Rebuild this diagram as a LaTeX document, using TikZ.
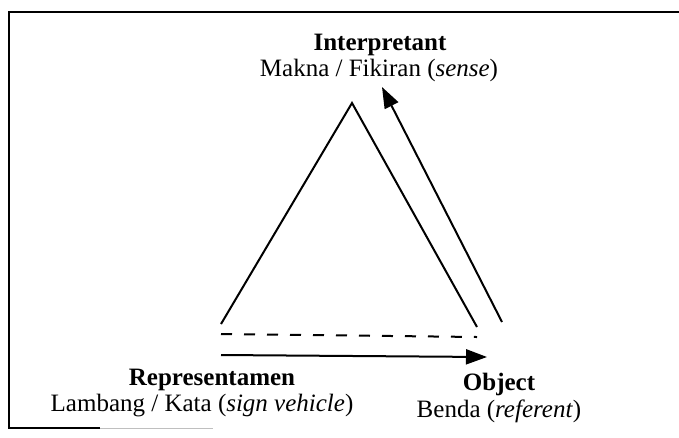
\documentclass[tikz,border=0pt]{standalone}
\usepackage{fontspec}
\setmainfont{Liberation Serif}
\usetikzlibrary{arrows.meta}
\begin{document}
\begin{tikzpicture}[x=1pt,y=-1pt,
  line/.style={line width=2pt},
  frame/.style={line width=2pt},
  lbl/.style={inner sep=0pt,anchor=base,font=\fontsize{25}{29}\selectfont},
  head/.style={lbl,font=\fontsize{25}{29}\selectfont\bfseries},
  tip/.style={-{Triangle[length=21pt,width=15pt]}}]
\useasboundingbox (0,0) rectangle (679,437);
% frame (open on the right)
\coordinate (ftr) at (679,12);
\coordinate (ftl) at (9,12);
\coordinate (fbl) at (9,428);
\coordinate (fbm) at (100,428);
\coordinate (fbe) at (213,428);
\draw[frame] (ftr) -- (ftl) -- (fbl) -- (fbm);
\draw[line width=1pt,black!25] (fbm) -- (fbe);
% triangle
\coordinate (L) at (221,324);
\coordinate (A) at (352,103);
\coordinate (R) at (477,327);
\draw[line] (L) -- (A) -- (R);
% dashed base
\coordinate (dL) at (221,334);
\coordinate (dR) at (477,337);
\draw[line,dash pattern=on 11pt off 12pt] (dL) -- (dR);
% arrow to object
\coordinate (aL) at (221,355);
\coordinate (aR) at (487,357);
\draw[line,tip] (aL) -- (aR);
% arrow to interpretant
\coordinate (bS) at (502,322);
\coordinate (bE) at (382,87);
\draw[line,tip] (bS) -- (bE);
% labels
\node[head] (int) at (380,50) {Interpretant};
\node[lbl] (intsub) at (379,76) {Makna / Fikiran (\textit{sense})};
\node[head] (rep) at (212,385) {Representamen};
\node[lbl] (repsub) at (202,411) {Lambang / Kata (\textit{sign vehicle})};
\node[head] (obj) at (499,390) {Object};
\node[lbl] (objsub) at (499,417) {Benda (\textit{referent})};
\end{tikzpicture}
\end{document}
